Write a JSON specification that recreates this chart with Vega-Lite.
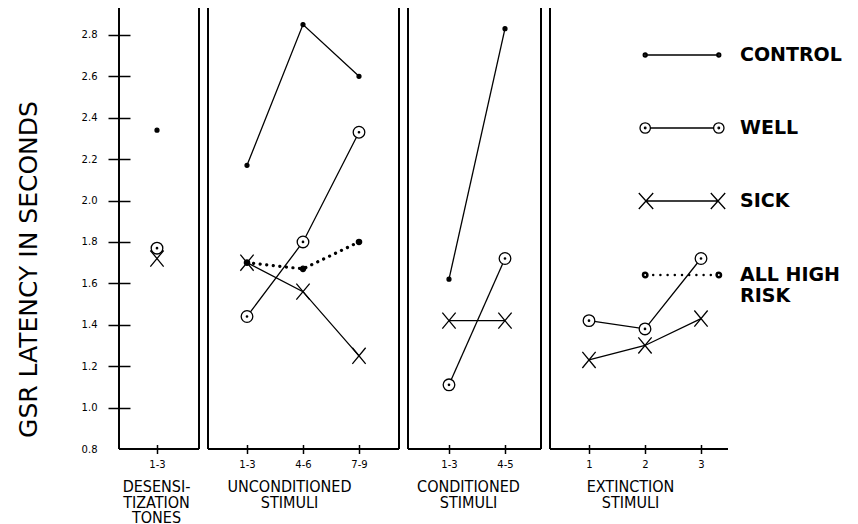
{
  "$schema": "https://vega.github.io/schema/vega-lite/v6.json",
  "background": "white",
  "padding": {"left": 16, "top": 7, "right": 5, "bottom": 0},
  "bounds": "flush",
  "spacing": 9,
  "datasets": {
    "gsr": [
      {"phase": "DES", "pos": 1, "group": "CONTROL", "value": 2.34},
      {"phase": "DES", "pos": 1, "group": "WELL", "value": 1.77},
      {"phase": "DES", "pos": 1, "group": "SICK", "value": 1.72},
      {"phase": "UNC", "pos": 1, "group": "CONTROL", "value": 2.17},
      {"phase": "UNC", "pos": 2, "group": "CONTROL", "value": 2.85},
      {"phase": "UNC", "pos": 3, "group": "CONTROL", "value": 2.6},
      {"phase": "UNC", "pos": 1, "group": "WELL", "value": 1.44},
      {"phase": "UNC", "pos": 2, "group": "WELL", "value": 1.8},
      {"phase": "UNC", "pos": 3, "group": "WELL", "value": 2.33},
      {"phase": "UNC", "pos": 1, "group": "SICK", "value": 1.7},
      {"phase": "UNC", "pos": 2, "group": "SICK", "value": 1.56},
      {"phase": "UNC", "pos": 3, "group": "SICK", "value": 1.25},
      {"phase": "UNC", "pos": 1, "group": "ALL HIGH RISK", "value": 1.7},
      {"phase": "UNC", "pos": 2, "group": "ALL HIGH RISK", "value": 1.67},
      {"phase": "UNC", "pos": 3, "group": "ALL HIGH RISK", "value": 1.8},
      {"phase": "CON", "pos": 1, "group": "CONTROL", "value": 1.62},
      {"phase": "CON", "pos": 2, "group": "CONTROL", "value": 2.83},
      {"phase": "CON", "pos": 1, "group": "WELL", "value": 1.11},
      {"phase": "CON", "pos": 2, "group": "WELL", "value": 1.72},
      {"phase": "CON", "pos": 1, "group": "SICK", "value": 1.42},
      {"phase": "CON", "pos": 2, "group": "SICK", "value": 1.42},
      {"phase": "EXT", "pos": 1, "group": "WELL", "value": 1.42},
      {"phase": "EXT", "pos": 2, "group": "WELL", "value": 1.38},
      {"phase": "EXT", "pos": 3, "group": "WELL", "value": 1.72},
      {"phase": "EXT", "pos": 1, "group": "SICK", "value": 1.23},
      {"phase": "EXT", "pos": 2, "group": "SICK", "value": 1.3},
      {"phase": "EXT", "pos": 3, "group": "SICK", "value": 1.43}
    ]
  },
  "data": {"name": "gsr"},
  "hconcat": [
    {
      "width": 80, "height": 441,
      "transform": [{"filter": "datum.phase === 'DES'"}],
      "layer": [
        {"layer": [
          {"mark": {"type": "rule", "stroke": "black", "strokeWidth": 1.5}, "encoding": {"x": {"datum": 0.3214, "type": "quantitative"}}},
          {"mark": {"type": "rule", "stroke": "black", "strokeWidth": 1.5}, "encoding": {"x": {"datum": 1.75, "type": "quantitative"}}},
          {"mark": {"type": "rule", "stroke": "black", "strokeWidth": 1.5}, "encoding": {"y": {"datum": 0.8, "type": "quantitative"}}}
        ]},
        {
          "encoding": {
            "x": {"field": "pos", "type": "quantitative", "scale": {"domain": [0.3214, 1.75], "nice": false, "zero": false},
              "axis": {"values": [1], "labelExpr": "'1-3'", "offset": -4.5, "tickSize": 9, "tickWidth": 1.5, "tickColor": "black", "domain": false, "grid": false, "labelFont": "DejaVu Sans", "labelFontSize": 10, "labelColor": "black", "labelPadding": 6, "labelFlush": false,
                "title": ["DESENSI-", "TIZATION", "TONES"], "titleFont": "DejaVu Sans Condensed", "titleFontSize": 16, "titleFontWeight": "normal", "titleColor": "black", "titleLineHeight": 15.5, "titlePadding": 9, "titleX": 37}},
            "y": {"field": "value", "type": "quantitative", "scale": {"domain": [0.8, 2.93], "nice": false, "zero": false},
              "axis": {"values": [0.8, 1.0, 1.2, 1.4, 1.6, 1.8, 2.0, 2.2, 2.4, 2.6, 2.8], "format": ".1f", "offset": -11, "tickSize": 22, "tickWidth": 1.5, "tickColor": "black",
                "tickOpacity": {"condition": {"test": "datum.value < 0.85", "value": 0}, "value": 1},
                "domain": false, "grid": false, "labelFont": "DejaVu Sans", "labelFontSize": 10, "labelColor": "black", "labelPadding": 11,
                "title": "GSR LATENCY IN SECONDS", "titleFont": "DejaVu Sans", "titleFontSize": 25, "titleFontWeight": "normal", "titleColor": "black", "titlePadding": 40, "titleY": 261}}
          },
          "layer": [
            {"transform": [{"filter": "datum.group !== 'ALL HIGH RISK'"}],
              "mark": {"type": "line", "stroke": "black", "strokeWidth": 1.3}, "encoding": {"detail": {"field": "group"}}},
            {"transform": [{"filter": "datum.group === 'ALL HIGH RISK'"}],
              "mark": {"type": "line", "stroke": "black", "strokeWidth": 3.2, "strokeCap": "round", "strokeDash": [0.1, 6.5]}, "encoding": {"detail": {"field": "group"}}},
            {"transform": [{"filter": "datum.group === 'CONTROL'"}],
              "mark": {"type": "point", "shape": "M-0.28,0A0.28,0.28,0,1,0,0.28,0A0.28,0.28,0,1,0,-0.28,0Z", "filled": true, "color": "black", "stroke": "black", "strokeWidth": 1.3, "size": 196, "opacity": 1}},
            {"transform": [{"filter": "datum.group === 'ALL HIGH RISK'"}],
              "mark": {"type": "point", "shape": "M-0.38,0A0.38,0.38,0,1,0,0.38,0A0.38,0.38,0,1,0,-0.38,0Z", "filled": true, "color": "black", "stroke": "black", "strokeWidth": 1.3, "size": 196, "opacity": 1}},
            {"transform": [{"filter": "datum.group === 'WELL'"}],
              "mark": {"type": "point", "shape": "M-0.83,0A0.83,0.83,0,1,0,0.83,0A0.83,0.83,0,1,0,-0.83,0ZM-0.1,0A0.1,0.1,0,1,0,0.1,0A0.1,0.1,0,1,0,-0.1,0Z", "filled": false, "stroke": "black", "fill": "white", "strokeWidth": 1.3, "size": 196, "opacity": 1}},
            {"transform": [{"filter": "datum.group === 'SICK'"}],
              "mark": {"type": "point", "shape": "M-0.95,-1.15L0.95,1.15M0.95,-1.15L-0.95,1.15", "filled": false, "stroke": "black", "strokeWidth": 1.3, "size": 196, "opacity": 1}},
            {"transform": [{"filter": "false"}],
              "mark": {"type": "point", "filled": false, "color": "black", "strokeWidth": 1.3},
              "encoding": {
                "shape": {"field": "group", "type": "nominal",
                  "scale": {"domain": ["CONTROL", "WELL", "SICK", "ALL HIGH RISK"], "range": [
                    "M-0.92,0H0.92M-0.97,0A0.05,0.05,0,1,0,-0.87,0A0.05,0.05,0,1,0,-0.97,0ZM0.87,0A0.05,0.05,0,1,0,0.97,0A0.05,0.05,0,1,0,0.87,0ZM-0.95,0A0.03,0.03,0,1,0,-0.89,0A0.03,0.03,0,1,0,-0.95,0ZM0.89,0A0.03,0.03,0,1,0,0.95,0A0.03,0.03,0,1,0,0.89,0Z",
                    "M-0.79,0H0.79M-1.05,0A0.13,0.13,0,1,0,-0.79,0A0.13,0.13,0,1,0,-1.05,0ZM0.79,0A0.13,0.13,0,1,0,1.05,0A0.13,0.13,0,1,0,0.79,0ZM-0.94,0A0.02,0.02,0,1,0,-0.9,0A0.02,0.02,0,1,0,-0.94,0ZM0.9,0A0.02,0.02,0,1,0,0.94,0A0.02,0.02,0,1,0,0.9,0Z",
                    "M-0.9,0H0.9M-1.08,-0.2L-0.72,0.2M-0.72,-0.2L-1.08,0.2M0.72,-0.2L1.08,0.2M1.08,-0.2L0.72,0.2",
                    "M-0.99,0A0.07,0.07,0,1,0,-0.85,0A0.07,0.07,0,1,0,-0.99,0ZM0.85,0A0.07,0.07,0,1,0,0.99,0A0.07,0.07,0,1,0,0.85,0ZM-0.96,0A0.04,0.04,0,1,0,-0.88,0A0.04,0.04,0,1,0,-0.96,0ZM0.88,0A0.04,0.04,0,1,0,0.96,0A0.04,0.04,0,1,0,0.88,0ZM-0.735,0A0.015,0.015,0,1,0,-0.705,0A0.015,0.015,0,1,0,-0.735,0ZM-0.555,0A0.015,0.015,0,1,0,-0.525,0A0.015,0.015,0,1,0,-0.555,0ZM-0.375,0A0.015,0.015,0,1,0,-0.345,0A0.015,0.015,0,1,0,-0.375,0ZM-0.195,0A0.015,0.015,0,1,0,-0.165,0A0.015,0.015,0,1,0,-0.195,0ZM-0.015,0A0.015,0.015,0,1,0,0.015,0A0.015,0.015,0,1,0,-0.015,0ZM0.165,0A0.015,0.015,0,1,0,0.195,0A0.015,0.015,0,1,0,0.165,0ZM0.345,0A0.015,0.015,0,1,0,0.375,0A0.015,0.015,0,1,0,0.345,0ZM0.525,0A0.015,0.015,0,1,0,0.555,0A0.015,0.015,0,1,0,0.525,0ZM0.705,0A0.015,0.015,0,1,0,0.735,0A0.015,0.015,0,1,0,0.705,0Z"]},
                  "legend": {"title": null, "orient": "none", "legendX": 522, "legendY": 6, "padding": 0,
                    "symbolSize": 6400, "symbolStrokeWidth": 1.3, "symbolStrokeColor": "black", "symbolFillColor": "transparent", "symbolOpacity": 1,
                    "labelFont": "DejaVu Sans", "labelFontSize": 19, "labelFontWeight": "bold", "labelColor": "black", "labelOffset": 17, "labelLimit": 220, "rowPadding": 22,
                    "labelExpr": "datum.value === 'ALL HIGH RISK' ? ['ALL HIGH', 'RISK'] : datum.label",
                    "encode": {"labels": {"lineHeight": {"value": 25}}}}}
              }}
          ]
        }
      ]
    },
    {
      "width": 191, "height": 441,
      "transform": [{"filter": "datum.phase === 'UNC'"}],
      "layer": [
        {"layer": [
          {"mark": {"type": "rule", "stroke": "black", "strokeWidth": 1.5}, "encoding": {"x": {"datum": 0.3036, "type": "quantitative"}}},
          {"mark": {"type": "rule", "stroke": "black", "strokeWidth": 1.5}, "encoding": {"x": {"datum": 3.7143, "type": "quantitative"}}},
          {"mark": {"type": "rule", "stroke": "black", "strokeWidth": 1.5}, "encoding": {"y": {"datum": 0.8, "type": "quantitative", "axis": null}}}
        ]},
        {
          "encoding": {
            "x": {"field": "pos", "type": "quantitative", "scale": {"domain": [0.3036, 3.7143], "nice": false, "zero": false},
              "axis": {"values": [1, 2, 3], "labelExpr": "['1-3','4-6','7-9'][datum.value-1]", "offset": -4.5, "tickSize": 9, "tickWidth": 1.5, "tickColor": "black", "domain": false, "grid": false, "labelFont": "DejaVu Sans", "labelFontSize": 10, "labelColor": "black", "labelPadding": 6, "labelFlush": false,
                "title": ["UNCONDITIONED", "STIMULI"], "titleFont": "DejaVu Sans Condensed", "titleFontSize": 16, "titleFontWeight": "normal", "titleColor": "black", "titleLineHeight": 15.5, "titlePadding": 9, "titleX": 81}},
            "y": {"field": "value", "type": "quantitative", "scale": {"domain": [0.8, 2.93], "nice": false, "zero": false}, "axis": null}
          },
          "layer": [
            {"transform": [{"filter": "datum.group !== 'ALL HIGH RISK'"}],
              "mark": {"type": "line", "stroke": "black", "strokeWidth": 1.3}, "encoding": {"detail": {"field": "group"}}},
            {"transform": [{"filter": "datum.group === 'ALL HIGH RISK'"}],
              "mark": {"type": "line", "stroke": "black", "strokeWidth": 3.2, "strokeCap": "round", "strokeDash": [0.1, 6.5]}, "encoding": {"detail": {"field": "group"}}},
            {"transform": [{"filter": "datum.group === 'CONTROL'"}],
              "mark": {"type": "point", "shape": "M-0.28,0A0.28,0.28,0,1,0,0.28,0A0.28,0.28,0,1,0,-0.28,0Z", "filled": true, "color": "black", "stroke": "black", "strokeWidth": 1.3, "size": 196, "opacity": 1}},
            {"transform": [{"filter": "datum.group === 'ALL HIGH RISK'"}],
              "mark": {"type": "point", "shape": "M-0.38,0A0.38,0.38,0,1,0,0.38,0A0.38,0.38,0,1,0,-0.38,0Z", "filled": true, "color": "black", "stroke": "black", "strokeWidth": 1.3, "size": 196, "opacity": 1}},
            {"transform": [{"filter": "datum.group === 'WELL'"}],
              "mark": {"type": "point", "shape": "M-0.83,0A0.83,0.83,0,1,0,0.83,0A0.83,0.83,0,1,0,-0.83,0ZM-0.1,0A0.1,0.1,0,1,0,0.1,0A0.1,0.1,0,1,0,-0.1,0Z", "filled": false, "stroke": "black", "fill": "white", "strokeWidth": 1.3, "size": 196, "opacity": 1}},
            {"transform": [{"filter": "datum.group === 'SICK'"}],
              "mark": {"type": "point", "shape": "M-0.95,-1.15L0.95,1.15M0.95,-1.15L-0.95,1.15", "filled": false, "stroke": "black", "strokeWidth": 1.3, "size": 196, "opacity": 1}}
          ]
        }
      ]
    },
    {
      "width": 133, "height": 441,
      "transform": [{"filter": "datum.phase === 'CON'"}],
      "layer": [
        {"layer": [
          {"mark": {"type": "rule", "stroke": "black", "strokeWidth": 1.5}, "encoding": {"x": {"datum": 0.268, "type": "quantitative"}}},
          {"mark": {"type": "rule", "stroke": "black", "strokeWidth": 1.5}, "encoding": {"x": {"datum": 2.643, "type": "quantitative"}}},
          {"mark": {"type": "rule", "stroke": "black", "strokeWidth": 1.5}, "encoding": {"y": {"datum": 0.8, "type": "quantitative", "axis": null}}}
        ]},
        {
          "encoding": {
            "x": {"field": "pos", "type": "quantitative", "scale": {"domain": [0.268, 2.643], "nice": false, "zero": false},
              "axis": {"values": [1, 2], "labelExpr": "['1-3','4-5'][datum.value-1]", "offset": -4.5, "tickSize": 9, "tickWidth": 1.5, "tickColor": "black", "domain": false, "grid": false, "labelFont": "DejaVu Sans", "labelFontSize": 10, "labelColor": "black", "labelPadding": 6, "labelFlush": false,
                "title": ["CONDITIONED", "STIMULI"], "titleFont": "DejaVu Sans Condensed", "titleFontSize": 16, "titleFontWeight": "normal", "titleColor": "black", "titleLineHeight": 15.5, "titlePadding": 9, "titleX": 60}},
            "y": {"field": "value", "type": "quantitative", "scale": {"domain": [0.8, 2.93], "nice": false, "zero": false}, "axis": null}
          },
          "layer": [
            {"transform": [{"filter": "datum.group !== 'ALL HIGH RISK'"}],
              "mark": {"type": "line", "stroke": "black", "strokeWidth": 1.3}, "encoding": {"detail": {"field": "group"}}},
            {"transform": [{"filter": "datum.group === 'CONTROL'"}],
              "mark": {"type": "point", "shape": "M-0.28,0A0.28,0.28,0,1,0,0.28,0A0.28,0.28,0,1,0,-0.28,0Z", "filled": true, "color": "black", "stroke": "black", "strokeWidth": 1.3, "size": 196, "opacity": 1}},
            {"transform": [{"filter": "datum.group === 'WELL'"}],
              "mark": {"type": "point", "shape": "M-0.83,0A0.83,0.83,0,1,0,0.83,0A0.83,0.83,0,1,0,-0.83,0ZM-0.1,0A0.1,0.1,0,1,0,0.1,0A0.1,0.1,0,1,0,-0.1,0Z", "filled": false, "stroke": "black", "fill": "white", "strokeWidth": 1.3, "size": 196, "opacity": 1}},
            {"transform": [{"filter": "datum.group === 'SICK'"}],
              "mark": {"type": "point", "shape": "M-0.95,-1.15L0.95,1.15M0.95,-1.15L-0.95,1.15", "filled": false, "stroke": "black", "strokeWidth": 1.3, "size": 196, "opacity": 1}}
          ]
        }
      ]
    },
    {
      "width": 178, "height": 441,
      "transform": [{"filter": "datum.phase === 'EXT'"}],
      "layer": [
        {"layer": [
          {"mark": {"type": "rule", "stroke": "black", "strokeWidth": 1.5}, "encoding": {"x": {"datum": 0.3036, "type": "quantitative"}}},
          {"mark": {"type": "rule", "stroke": "black", "strokeWidth": 1.5}, "encoding": {"y": {"datum": 0.8, "type": "quantitative", "axis": null}}}
        ]},
        {
          "encoding": {
            "x": {"field": "pos", "type": "quantitative", "scale": {"domain": [0.3036, 3.482], "nice": false, "zero": false},
              "axis": {"values": [1, 2, 3], "format": "d", "offset": -4.5, "tickSize": 9, "tickWidth": 1.5, "tickColor": "black", "domain": false, "grid": false, "labelFont": "DejaVu Sans", "labelFontSize": 10, "labelColor": "black", "labelPadding": 6, "labelFlush": false,
                "title": ["EXTINCTION", "STIMULI"], "titleFont": "DejaVu Sans Condensed", "titleFontSize": 16, "titleFontWeight": "normal", "titleColor": "black", "titleLineHeight": 15.5, "titlePadding": 9, "titleX": 80}},
            "y": {"field": "value", "type": "quantitative", "scale": {"domain": [0.8, 2.93], "nice": false, "zero": false}, "axis": null}
          },
          "layer": [
            {"transform": [{"filter": "datum.group !== 'ALL HIGH RISK'"}],
              "mark": {"type": "line", "stroke": "black", "strokeWidth": 1.3}, "encoding": {"detail": {"field": "group"}}},
            {"transform": [{"filter": "datum.group === 'WELL'"}],
              "mark": {"type": "point", "shape": "M-0.83,0A0.83,0.83,0,1,0,0.83,0A0.83,0.83,0,1,0,-0.83,0ZM-0.1,0A0.1,0.1,0,1,0,0.1,0A0.1,0.1,0,1,0,-0.1,0Z", "filled": false, "stroke": "black", "fill": "white", "strokeWidth": 1.3, "size": 196, "opacity": 1}},
            {"transform": [{"filter": "datum.group === 'SICK'"}],
              "mark": {"type": "point", "shape": "M-0.95,-1.15L0.95,1.15M0.95,-1.15L-0.95,1.15", "filled": false, "stroke": "black", "strokeWidth": 1.3, "size": 196, "opacity": 1}}
          ]
        }
      ]
    }
  ],
  "config": {"view": {"stroke": null}}
}
